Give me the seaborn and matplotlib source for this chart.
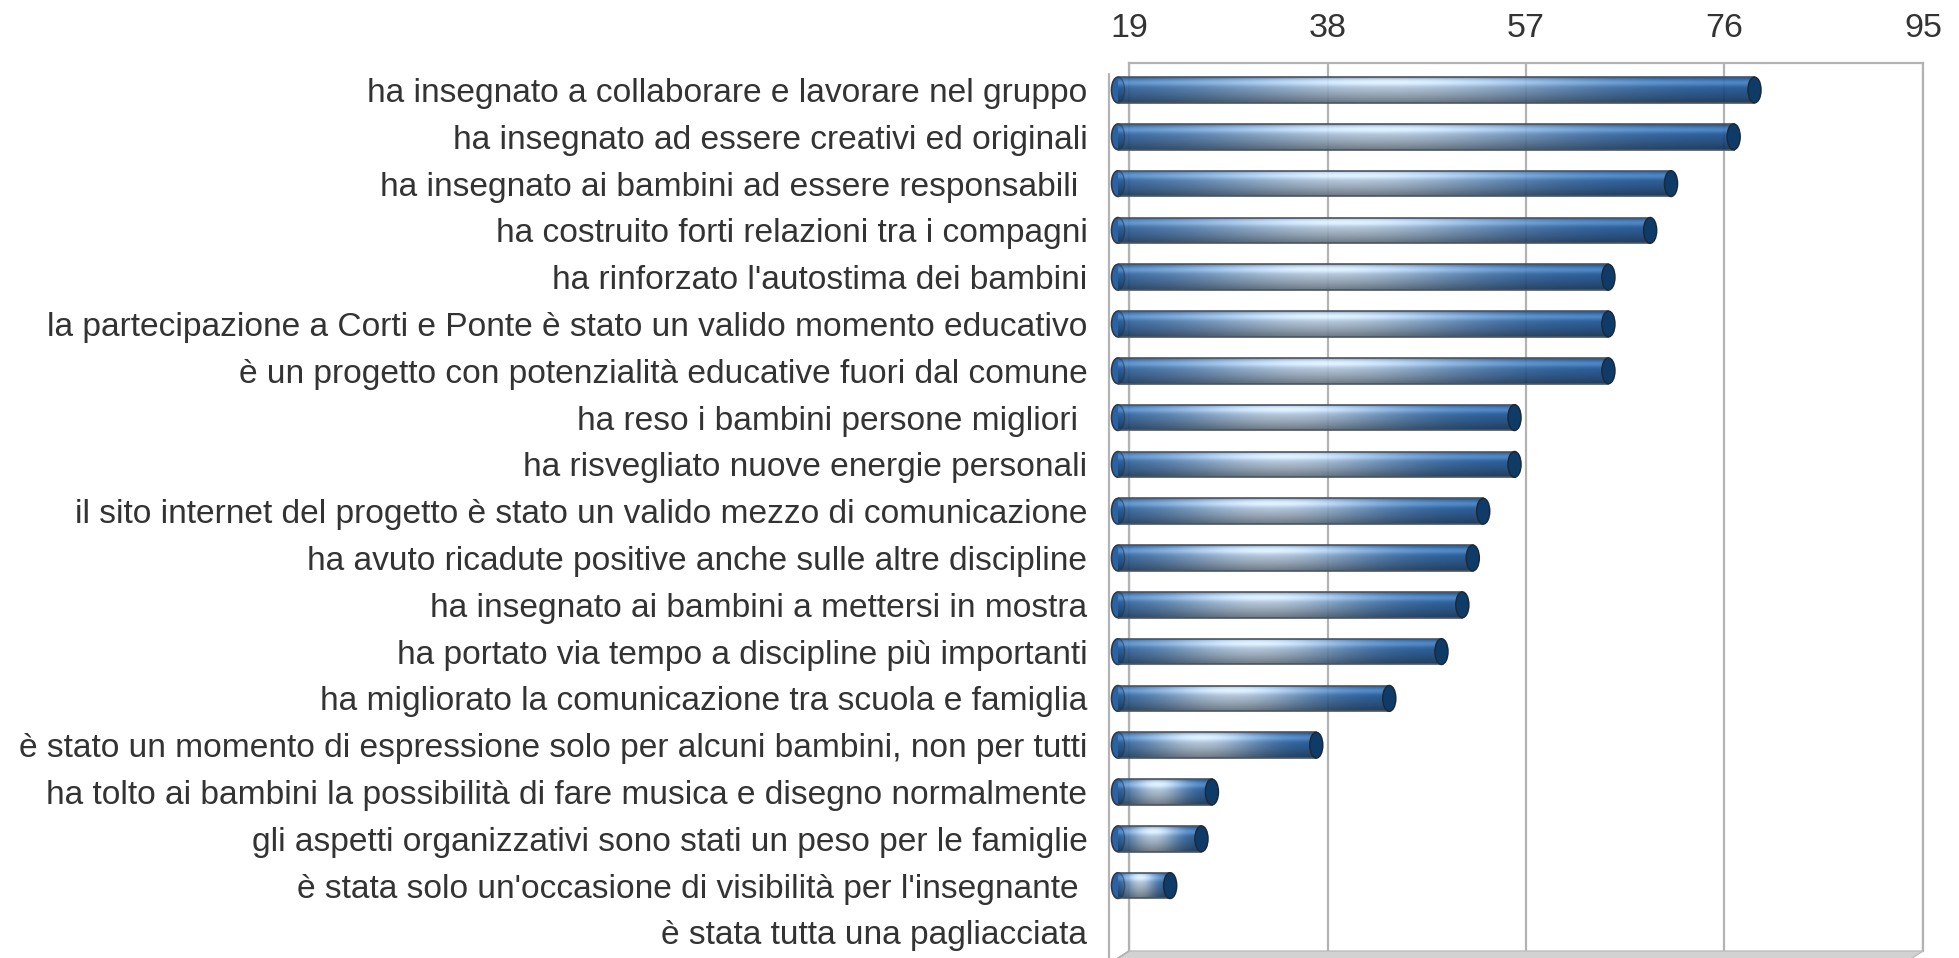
import numpy as np
import pandas as pd
import matplotlib
matplotlib.use('Agg')
import matplotlib.pyplot as plt
import seaborn as sns
from matplotlib.patches import Ellipse, Polygon
from matplotlib.lines import Line2D

# data
labels = [
    "ha insegnato a collaborare e lavorare nel gruppo",
    "ha insegnato ad essere creativi ed originali",
    "ha insegnato ai bambini ad essere responsabili ",
    "ha costruito forti relazioni tra i compagni",
    "ha rinforzato l'autostima dei bambini",
    "la partecipazione a Corti e Ponte è stato un valido momento educativo",
    "è un progetto con potenzialità educative fuori dal comune",
    "ha reso i bambini persone migliori ",
    "ha risvegliato nuove energie personali",
    "il sito internet del progetto è stato un valido mezzo di comunicazione",
    "ha avuto ricadute positive anche sulle altre discipline",
    "ha insegnato ai bambini a mettersi in mostra",
    "ha portato via tempo a discipline più importanti",
    "ha migliorato la comunicazione tra scuola e famiglia",
    "è stato un momento di espressione solo per alcuni bambini, non per tutti",
    "ha tolto ai bambini la possibilità di fare musica e disegno normalmente",
    "gli aspetti organizzativi sono stati un peso per le famiglie",
    "è stata solo un'occasione di visibilità per l'insegnante ",
    "è stata tutta una pagliacciata",
]
values = [80, 78, 72, 70, 66, 66, 66, 57, 57, 54, 53, 52, 50, 45, 38, 28, 27, 24, 0]
ticks = [19, 38, 57, 76, 95]

sns.set_style('white')
plt.rcParams['font.family'] = ['Liberation Sans', 'DejaVu Sans']

W, H = 1959, 958
fig = plt.figure(figsize=(W / 100, H / 100), dpi=100)

# back wall with gridlines and top axis
axb = fig.add_axes([1129 / W, 7 / H, 794 / W, 888 / H])
axb.set_xlim(19, 95)
axb.set_ylim(0, 1)
axb.set_xticks(ticks)
axb.set_yticks([])
axb.xaxis.tick_top()
axb.tick_params(axis='x', length=0, pad=14, labelsize=24.5, labelcolor='#333333')
axb.grid(axis='x', color='#b3b3b3', lw=1.6)
for s in ['top', 'right', 'left']:
    axb.spines[s].set_color('#b3b3b3')
    axb.spines[s].set_linewidth(1.6)
axb.spines['bottom'].set_visible(False)

# front plane with the bars
df = pd.DataFrame({'label': labels, 'value': values})
axf = fig.add_axes([1118 / W, 2.2 / H, 793 / W, 889.2 / H])
axf.patch.set_alpha(0)
sns.barplot(data=df, x='value', y='label', orient='h', width=0.55,
            color='#1f5c9e', saturation=1, ax=axf)
axf.set_xlim(19, 95)
axf.set_ylim(18.5, -0.5)
axf.set_xticks([])
axf.set_xlabel('')
axf.set_ylabel('')
for s in axf.spines.values():
    s.set_visible(False)
axf.tick_params(axis='y', length=0, pad=22, labelsize=24.1, labelcolor='#333333')

# cylinder shading (rgb image clipped to each bar)
ny, nx = 80, 300
t = np.linspace(0, 1, ny)[:, None, None]
u = np.linspace(0, 1, nx)[None, :, None]
end_blue = np.array([0.10, 0.35, 0.63])
light = np.array([0.80, 0.88, 0.96])
b = 0.95 * np.exp(-((u - 0.42) / 0.30) ** 2)
col = end_blue + (light - end_blue) * b
dark = 1 - 0.5 * t ** 1.6 - 0.25 * np.exp(-(t / 0.07) ** 2)
hl = 0.14 * np.exp(-((t - 0.22) / 0.12) ** 2)
shade = np.clip(col * dark + hl, 0, 1)

xmin = 19
capw = 1.25
for p, v in zip(axf.patches, values):
    if v <= xmin:
        p.set_visible(False)
        continue
    y0, h = p.get_y(), p.get_height()
    yc = y0 + h / 2
    # left end of the cylinder
    axf.add_patch(Ellipse((xmin, yc), capw, h, facecolor='#2a62a4',
                          edgecolor='#2b3a4a', lw=1.1, clip_on=False, zorder=1))
    p.set_facecolor((0, 0, 0, 0))
    p.set_edgecolor('#4a5562')
    p.set_linewidth(1.2)
    p.set_zorder(3)
    im = axf.imshow(shade, aspect='auto', interpolation='bilinear',
                    origin='upper', alpha=0.93,
                    extent=(xmin, v, y0 + h, y0), zorder=2)
    im.set_clip_path(p)
    axf.add_patch(Ellipse((xmin, yc), capw, h, facecolor='none',
                          edgecolor='#2b3a4a', lw=0.9, alpha=0.5,
                          clip_on=False, zorder=4))
    # right end cap
    axf.add_patch(Ellipse((v, yc), capw, h, facecolor='#0f3b69',
                          edgecolor='#1c2a38', lw=1.1, clip_on=False, zorder=5))
axf.set_xlim(19, 95)
axf.set_ylim(18.5, -0.5)


def fx(x):
    return x / W


def fy(y):
    return 1 - y / H


# floor and front edge of the left wall
floor = Polygon([(fx(1129), fy(951)), (fx(1923), fy(951)), (fx(1903), fy(964)),
                 (fx(1109), fy(964))], closed=True, transform=fig.transFigure,
                facecolor='#d2d2d2', edgecolor='#bdbdbd', lw=1)
fig.add_artist(floor)
fig.add_artist(Line2D([fx(1109), fx(1109)], [fy(74), fy(958)],
                      transform=fig.transFigure, color='#b3b3b3', lw=1.6))
fig.add_artist(Line2D([fx(1129), fx(1109)], [fy(951), fy(964)],
                      transform=fig.transFigure, color='#b3b3b3', lw=1.2))

fig.savefig('out.png', dpi=100)
